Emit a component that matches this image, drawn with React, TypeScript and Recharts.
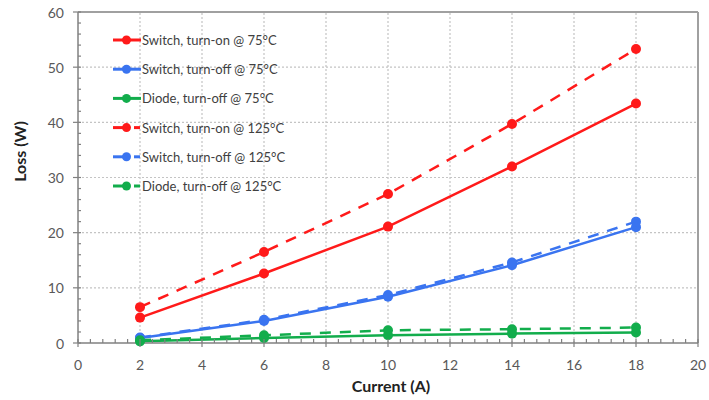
import { LineChart, Line, XAxis, YAxis, ReferenceLine } from 'recharts'

const current = [2, 6, 10, 14, 18]
const swOn75 = [4.6, 12.6, 21.1, 32, 43.4]
const swOff75 = [0.9, 4.0, 8.4, 14.1, 21.0]
const diode75 = [0.3, 0.9, 1.4, 1.7, 1.9]
const swOn125 = [6.5, 16.5, 27, 39.7, 53.3]
const swOff125 = [1.0, 4.2, 8.7, 14.6, 22.0]
const diode125 = [0.5, 1.4, 2.3, 2.5, 2.8]

const xMajor = [0, 2, 4, 6, 8, 10, 12, 14, 16, 18, 20]
const yMajor = [0, 10, 20, 30, 40, 50, 60]
// minor tick positions (every 0.4 on x, every 2 on y)
const xTicks = Array.from({ length: 51 }, (_, i) => Math.round(i * 4) / 10)
const yTicks = Array.from({ length: 31 }, (_, i) => i * 2)

const data = current.map((c, i) => ({
    current: c,
    swOn75: swOn75[i],
    swOff75: swOff75[i],
    diode75: diode75[i],
    swOn125: swOn125[i],
    swOff125: swOff125[i],
    diode125: diode125[i],
}))

const RED = '#ff1a1a'
const BLUE = '#3a74f0'
const GREEN = '#12ad4c'

const SERIES = [
    { key: 'swOn75', name: 'Switch, turn-on @ 75°C', color: RED, dashed: false },
    { key: 'swOff75', name: 'Switch, turn-off @ 75°C', color: BLUE, dashed: false },
    { key: 'diode75', name: 'Diode, turn-off @ 75°C', color: GREEN, dashed: false },
    { key: 'swOn125', name: 'Switch, turn-on @ 125°C', color: RED, dashed: true },
    { key: 'swOff125', name: 'Switch, turn-off @ 125°C', color: BLUE, dashed: true },
    { key: 'diode125', name: 'Diode, turn-off @ 125°C', color: GREEN, dashed: true },
]

const FONT = 'Lato, "Open Sans", sans-serif'
const AXIS = '#808080'
const GRID = '#c4c4c4'

function XTick({ x, y, payload }: any) {
    const v: number = payload.value
    const major = Math.abs(v - Math.round(v)) < 1e-6 && Math.round(v) % 2 === 0
    return (
        <g>
            <line x1={x} x2={x} y1={y - 4} y2={major ? y + 4 : y} stroke={AXIS} strokeWidth={1.2} />
            {major && (
                <text x={x} y={y + 21} textAnchor="middle" dominantBaseline="central"
                    style={{ fill: '#595959', fontSize: 14, fontFamily: FONT }}>
                    {Math.round(v)}
                </text>
            )}
        </g>
    )
}

function YTick({ x, y, payload }: any) {
    const v: number = payload.value
    const major = v % 10 === 0
    return (
        <g>
            <line x1={major ? x - 5 : x} x2={x + 3} y1={y} y2={y} stroke={AXIS} strokeWidth={1.2} />
            {major && (
                <text x={x - 14} y={y} textAnchor="end" dominantBaseline="central"
                    style={{ fill: '#595959', fontSize: 14, fontFamily: FONT }}>
                    {v}
                </text>
            )}
        </g>
    )
}

function LegendBox() {
    return (
        <svg width={260} height={180} style={{ display: 'block' }}>
            {SERIES.map((s, i) => {
                const cy = 14 + i * 29.2
                return (
                    <g key={s.key}>
                        {s.dashed ? (
                            <>
                                <line x1={3} x2={16} y1={cy} y2={cy} stroke={s.color} strokeWidth={3} />
                                <line x1={24} x2={30} y1={cy} y2={cy} stroke={s.color} strokeWidth={3} />
                            </>
                        ) : (
                            <line x1={3} x2={31} y1={cy} y2={cy} stroke={s.color} strokeWidth={3} />
                        )}
                        <circle cx={16.5} cy={cy} r={4.5} fill={s.color} />
                        <text x={32} y={cy} dominantBaseline="central"
                            style={{ fill: '#404040', fontSize: 13, fontFamily: FONT }}>
                            {s.name}
                        </text>
                    </g>
                )
            })}
        </svg>
    )
}

export default function App() {
    return (
        <div style={{ position: 'absolute', left: 0, top: 0, width: 709, height: 400, background: '#fff' }}>
            <LineChart width={709} height={400} data={data} margin={{ top: 12, right: 11, left: 0, bottom: 27 }}>
                {xMajor.slice(1, -1).map((v) => (
                    <ReferenceLine key={'gx' + v} x={v} stroke={GRID} strokeDasharray="2 2" strokeWidth={1.2} />
                ))}
                {yMajor.slice(1, -1).map((v) => (
                    <ReferenceLine key={'gy' + v} y={v} stroke={GRID} strokeDasharray="2 2" strokeWidth={1.2} />
                ))}
                <ReferenceLine x={20} stroke="#a0a0a0" strokeWidth={2} />
                <ReferenceLine y={60} stroke="#a0a0a0" strokeWidth={2} />
                <XAxis
                    type="number"
                    dataKey="current"
                    domain={[0, 20]}
                    ticks={xTicks}
                    interval={0}
                    height={30}
                    tickSize={0}
                    tickMargin={0}
                    tickLine={false}
                    axisLine={{ stroke: AXIS, strokeWidth: 1.5 }}
                    tick={<XTick />}
                    label={({ viewBox }: any) => (
                        <text x={viewBox.x + viewBox.width / 2 + 3} y={viewBox.y + 42} textAnchor="middle"
                            dominantBaseline="central"
                            style={{ fill: '#222', fontSize: 16, fontWeight: 700, fontFamily: FONT }}>
                            Current (A)
                        </text>
                    )}
                />
                <YAxis
                    type="number"
                    domain={[0, 60]}
                    ticks={yTicks}
                    interval={0}
                    width={78}
                    tickSize={0}
                    tickMargin={0}
                    tickLine={false}
                    axisLine={{ stroke: AXIS, strokeWidth: 1.5 }}
                    tick={<YTick />}
                    label={({ viewBox }: any) => {
                        const lx = viewBox.x + 19
                        const ly = viewBox.y + viewBox.height / 2 - 26
                        return (
                            <text x={lx} y={ly} textAnchor="middle" dominantBaseline="central"
                                transform={`rotate(-90, ${lx}, ${ly})`}
                                style={{ fill: '#222', fontSize: 16, fontWeight: 700, fontFamily: FONT }}>
                                Loss (W)
                            </text>
                        )
                    }}
                />
                {SERIES.map((s) => (
                    <Line
                        key={s.key}
                        dataKey={s.key}
                        name={s.name}
                        stroke={s.color}
                        strokeWidth={2.5}
                        strokeDasharray={s.dashed ? '11 9' : undefined}
                        dot={{ r: 5, fill: s.color, stroke: s.color, strokeWidth: 0 }}
                        activeDot={false}
                        isAnimationActive={false}
                    />
                ))}
            </LineChart>
            <div style={{ position: 'absolute', left: 110, top: 26 }}>
                <LegendBox />
            </div>
        </div>
    )
}
